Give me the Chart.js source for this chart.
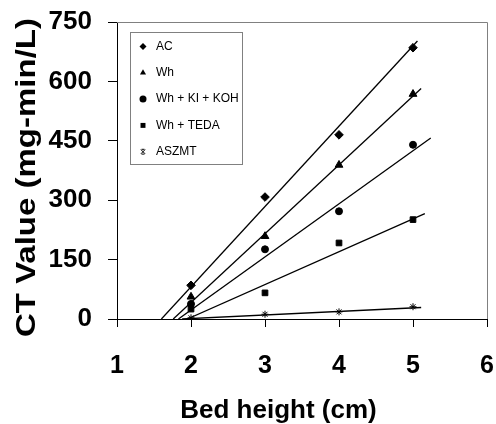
<!DOCTYPE html>
<html>
<head>
<meta charset="utf-8">
<script src="https://cdn.jsdelivr.net/npm/chart.js@4/dist/chart.umd.min.js"></script>
<style>
  html, body { margin: 0; padding: 0; background: #fff; }
  #wrap { width: 496px; height: 424px; position: relative; }
</style>
</head>
<body>
<div id="wrap"><canvas id="c" width="496" height="424"></canvas></div>
<script>
// ---- data ----
const bedHeights = [2, 3, 4, 5];
const seriesNames = ['AC', 'Wh', 'Wh + KI + KOH', 'Wh + TEDA', 'ASZMT'];
const acValues = [85, 308, 465, 685];
const whValues = [56, 209, 389, 568];
const whKiKohValues = [38, 176, 272, 440];
const whTedaValues = [25, 66, 192, 251];
const aszmtValues = [3, 12, 18, 31];
// trend lines (start x at CT = 0, end x / end CT)
const trendStartX = [1.60, 1.76, 1.83, 1.95, 1.88];
const trendStartY = [0, 0, 0, 0, 0];
const trendEndX = [5.06, 5.11, 5.24, 5.16, 5.11];
const trendEndY = [702, 582, 457, 266, 29];
const xTicks = [1, 2, 3, 4, 5, 6];
const yTicks = [0, 150, 300, 450, 600, 750];
const xTitle = 'Bed height (cm)';
const yTitle = 'CT Value (mg-min/L)';

const allValues = [acValues, whValues, whKiKohValues, whTedaValues, aszmtValues];
const pointStyles = ['rectRot', 'triangle', 'circle', 'rect', 'star'];
const pointRadii = [4.3, 4.5, 3.5, 4.0, 3.5];

const datasets = [];
allValues.forEach((vals, i) => {
  datasets.push({
    label: seriesNames[i],
    data: bedHeights.map((x, j) => ({ x: x, y: vals[j] })),
    showLine: false,
    pointStyle: pointStyles[i],
    pointRadius: pointRadii[i],
    pointBackgroundColor: '#000',
    pointBorderColor: '#000',
    pointBorderWidth: 1,
    order: 0
  });
});
allValues.forEach((vals, i) => {
  datasets.push({
    label: seriesNames[i] + ' trend',
    data: [{ x: trendStartX[i], y: trendStartY[i] }, { x: trendEndX[i], y: trendEndY[i] }],
    showLine: true,
    borderColor: '#000',
    borderWidth: 1.3,
    pointRadius: 0,
    fill: false,
    order: 1
  });
});

function drawMarker(ctx, style, x, y, r) {
  ctx.beginPath();
  if (style === 'rectRot') {
    ctx.moveTo(x - r, y); ctx.lineTo(x, y - r); ctx.lineTo(x + r, y); ctx.lineTo(x, y + r); ctx.closePath();
    ctx.fill();
  } else if (style === 'triangle') {
    ctx.moveTo(x, y - r); ctx.lineTo(x + r * 0.87, y + r * 0.5); ctx.lineTo(x - r * 0.87, y + r * 0.5); ctx.closePath();
    ctx.fill();
  } else if (style === 'circle') {
    ctx.arc(x, y, r, 0, Math.PI * 2); ctx.fill();
  } else if (style === 'rect') {
    const s = r * Math.SQRT1_2; ctx.rect(x - s, y - s, 2 * s, 2 * s); ctx.fill();
  } else if (style === 'star') {
    ctx.moveTo(x - r * 0.7, y - r * 0.7); ctx.lineTo(x + r * 0.7, y + r * 0.7);
    ctx.moveTo(x + r * 0.7, y - r * 0.7); ctx.lineTo(x - r * 0.7, y + r * 0.7);
    ctx.moveTo(x - r * 0.5, y - r * 0.8); ctx.lineTo(x + r * 0.5, y - r * 0.8);
    ctx.moveTo(x - r * 0.5, y + r * 0.8); ctx.lineTo(x + r * 0.5, y + r * 0.8);
    ctx.lineWidth = 1; ctx.stroke();
  }
}

const FONT = '"Liberation Sans", Arial, sans-serif';

const framePlugin = {
  id: 'frameAndLegend',
  afterDraw(chart) {
    const ctx = chart.ctx;
    const a = chart.chartArea;
    ctx.save();
    // top and right frame lines
    ctx.strokeStyle = '#808080';
    ctx.lineWidth = 1;
    ctx.beginPath();
    ctx.moveTo(a.left, a.top + 0.5); ctx.lineTo(a.right + 0.5, a.top + 0.5); ctx.lineTo(a.right + 0.5, a.bottom);
    ctx.stroke();
    // legend box inside the plot
    const bx = a.left + 13, by = a.top + 10, bw = 112, bh = 132;
    ctx.fillStyle = '#fff';
    ctx.fillRect(bx, by, bw, bh);
    ctx.strokeStyle = '#808080';
    ctx.strokeRect(bx + 0.5, by + 0.5, bw, bh);
    ctx.font = '12px ' + FONT;
    ctx.textBaseline = 'middle';
    ctx.textAlign = 'left';
    seriesNames.forEach((name, i) => {
      const y = by + 14.5 + i * 26.3;
      ctx.fillStyle = '#000';
      ctx.strokeStyle = '#000';
      drawMarker(ctx, pointStyles[i], bx + 13, y, i === 4 ? 3 : 3.5);
      ctx.fillStyle = '#000';
      ctx.fillText(name, bx + 26, y);
    });

    // axis titles
    ctx.fillStyle = '#000';
    ctx.font = 'bold 26px ' + FONT;
    ctx.textAlign = 'center';
    ctx.textBaseline = 'alphabetic';
    ctx.fillText(xTitle, 278.5, 418);

    ctx.font = 'bold 28px ' + FONT;
    const w = ctx.measureText(yTitle).width;
    ctx.translate(35, 177.5);
    ctx.rotate(-Math.PI / 2);
    ctx.scale(319 / w, 1);
    ctx.fillText(yTitle, 0, 0);
    ctx.restore();
  }
};

new Chart(document.getElementById('c'), {
  type: 'scatter',
  data: { datasets: datasets },
  options: {
    responsive: false,
    animation: false,
    devicePixelRatio: 1,
    layout: { padding: { left: 0, top: 22, right: 9, bottom: 0 }, autoPadding: false },
    plugins: {
      legend: { display: false },
      tooltip: { enabled: false }
    },
    scales: {
      x: {
        type: 'linear',
        min: 1, max: 6,
        afterFit: s => { s.height = 105; s.paddingLeft = 0; s.paddingRight = 0; },
        afterBuildTicks: s => { s.ticks = xTicks.map(v => ({ value: v })); },
        grid: { display: true, drawOnChartArea: false, drawTicks: true, tickLength: 8, color: '#000', tickColor: '#000' },
        border: { display: true, color: '#000', width: 1 },
        ticks: {
          color: '#000',
          padding: 24,
          font: { family: FONT, size: 25, weight: 'bold' }
        },
        title: { display: false }
      },
      y: {
        type: 'linear',
        min: 0, max: 750,
        afterFit: s => { s.width = 117; s.paddingTop = 0; s.paddingBottom = 0; },
        afterBuildTicks: s => { s.ticks = yTicks.map(v => ({ value: v })); },
        grid: { display: true, drawOnChartArea: false, drawTicks: true, tickLength: 9, color: '#000', tickColor: '#000' },
        border: { display: true, color: '#000', width: 1 },
        ticks: {
          color: '#000',
          padding: 16,
          font: { family: FONT, size: 26, weight: 'bold' }
        },
        title: { display: false }
      }
    }
  },
  plugins: [framePlugin]
});
</script>
</body>
</html>
